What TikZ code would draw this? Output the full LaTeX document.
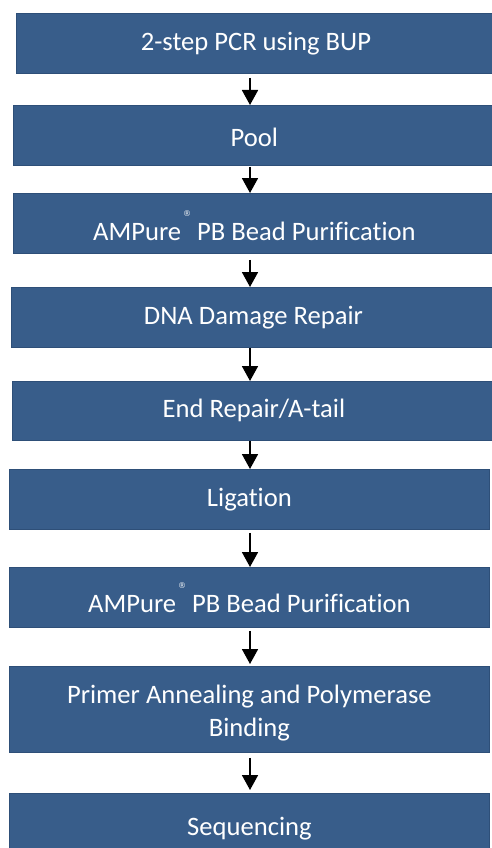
\documentclass[tikz,border=0pt]{standalone}
\usepackage{fontspec}
\setmainfont{Carlito}[Ligatures=NoCommon]
\newfontfamily\regfont{DejaVu Sans}
\usetikzlibrary{arrows.meta}
\definecolor{boxblue}{HTML}{385D8A}
\definecolor{boxedge}{HTML}{2E4F78}
\begin{document}
\begin{tikzpicture}[x=1pt,y=-1pt,
  stepbox/.style={rectangle, fill=boxblue, draw=boxedge, line width=0.8pt, text=white,
    font=\fontsize{26.6}{33}\selectfont, align=center, inner sep=0pt, anchor=north west},
  flow/.style={line width=1.8pt, -{Triangle[length=15pt,width=16pt]}}]
\useasboundingbox (0,0) rectangle (491,848);
\coordinate (ax) at (250,0);
\newcommand{\regmark}{\hspace{2pt}\raisebox{24pt}[0pt][0pt]{\regfont\fontsize{8}{8}\selectfont ®}\hspace{6pt}}
\newcommand{\lowered}[2]{\raisebox{-#1}[\height][\depth]{#2}}
\node[stepbox, minimum width=479pt, minimum height=60pt] (n1) at (16,13) {2-step PCR using BUP};
\node[stepbox, minimum width=482pt, minimum height=60pt] (n2) at (13,105) {\lowered{2pt}{Pool}};
\node[stepbox, minimum width=482pt, minimum height=60pt] (n3) at (13,193) {\lowered{8pt}{AMPure\regmark PB Bead Purification}};
\node[stepbox, minimum width=484pt, minimum height=60pt] (n4) at (11,287) {DNA Damage Repair};
\node[stepbox, minimum width=483pt, minimum height=59pt] (n5) at (12,381) {End Repair/A-tail};
\node[stepbox, minimum width=480pt, minimum height=60pt] (n6) at (9,469) {Ligation};
\node[stepbox, minimum width=480pt, minimum height=60pt] (n7) at (9,567) {\lowered{6pt}{AMPure\regmark PB Bead Purification}};
\node[stepbox, minimum width=480pt, minimum height=86pt] (n8) at (9,666) {\lowered{4pt}{\begin{tabular}{@{}c@{}}Primer Annealing and Polymerase\\Binding\end{tabular}}};
\node[stepbox, minimum width=480pt, minimum height=62pt] (n9) at (9,793) {\lowered{4pt}{Sequencing}};
\draw[flow, shorten <=4pt] (n1.south -| ax) -- (n2.north -| ax);
\draw[flow, shorten <=1pt] (n2.south -| ax) -- (n3.north -| ax);
\draw[flow, shorten <=6pt] (n3.south -| ax) -- (n4.north -| ax);
\draw[flow] (n4.south -| ax) -- (n5.north -| ax);
\draw[flow] (n5.south -| ax) -- (n6.north -| ax);
\draw[flow, shorten <=3pt] (n6.south -| ax) -- (n7.north -| ax);
\draw[flow, shorten <=3pt, shorten >=2pt] (n7.south -| ax) -- (n8.north -| ax);
\draw[flow, shorten <=5pt, shorten >=3pt] (n8.south -| ax) -- (n9.north -| ax);
\end{tikzpicture}
\end{document}
